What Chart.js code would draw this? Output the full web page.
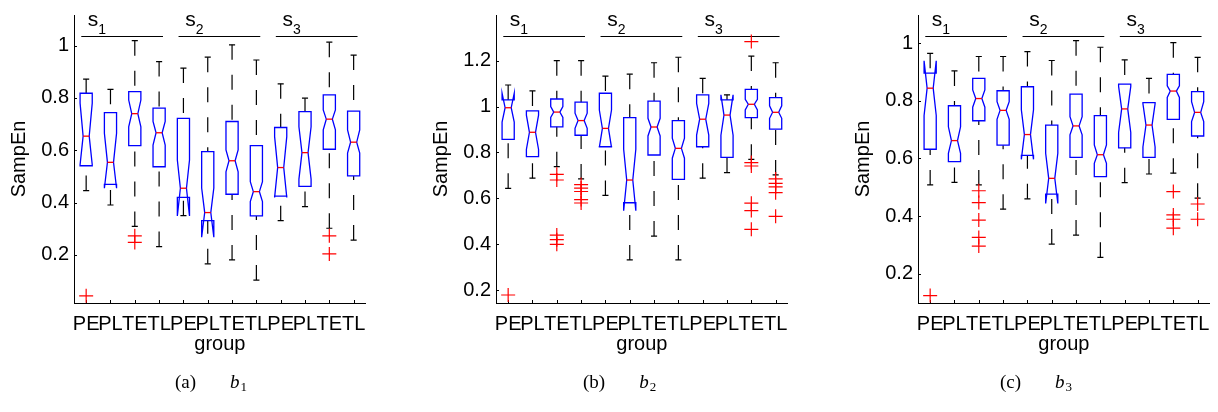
<!DOCTYPE html>
<html>
<head>
<meta charset="utf-8">
<script src="https://cdn.jsdelivr.net/npm/chart.js@4.4.0/dist/chart.umd.min.js"></script>
<style>
body { margin:0; background:#fff; width:1218px; height:412px; overflow:hidden; position:relative; }
canvas { position:absolute; top:0; }
.cap { position:absolute; top:371px; font-family:"Liberation Serif", serif; font-size:19px; line-height:22px; color:#000; white-space:nowrap; }
.cap i { margin-left:34px; }
.cap sub { font-size:13px; vertical-align:-3px; margin-left:1px; }
</style>
</head>
<body>
<canvas id="b1" width="374" height="412" style="left:0px"></canvas>
<canvas id="b2" width="374" height="412" style="left:422px"></canvas>
<canvas id="b3" width="374" height="412" style="left:844px"></canvas>
<div class="cap" style="left:175px">(a)<i>b</i><sub>1</sub></div>
<div class="cap" style="left:583px">(b)<i>b</i><sub>2</sub></div>
<div class="cap" style="left:1000px">(c)<i>b</i><sub>3</sub></div>
<script>
// categories
const groups = ['PE','PL','TE','TL','PE','PL','TE','TL','PE','PL','TE','TL'];
const subjects = ['1', '2', '3'];

// b1
const b1WhisHi  = [0.872, 0.833, 1.019, 0.939, 0.914, 0.956, 1.003, 0.945, 0.854, 0.799, 1.013, 0.964];
const b1Q3      = [0.818, 0.744, 0.824, 0.761, 0.722, 0.595, 0.710, 0.618, 0.687, 0.748, 0.812, 0.750];
const b1NotchHi = [0.780, 0.665, 0.792, 0.710, 0.563, 0.456, 0.601, 0.480, 0.652, 0.690, 0.754, 0.678];
const b1Median  = [0.654, 0.554, 0.740, 0.667, 0.455, 0.362, 0.560, 0.442, 0.534, 0.591, 0.719, 0.631];
const b1NotchLo = [0.545, 0.455, 0.690, 0.620, 0.349, 0.268, 0.518, 0.404, 0.420, 0.490, 0.678, 0.589];
const b1Q1      = [0.541, 0.470, 0.618, 0.537, 0.420, 0.331, 0.432, 0.349, 0.425, 0.462, 0.604, 0.502];
const b1WhisLo  = [0.446, 0.391, 0.309, 0.232, 0.350, 0.166, 0.181, 0.104, 0.331, 0.385, 0.302, 0.257];
const b1Outliers = [[0.044], [], [0.273, 0.248], [], [], [], [], [], [], [], [0.273, 0.204], []];

// b2
const b2WhisHi  = [1.094, 1.068, 1.200, 1.200, 1.133, 1.141, 1.191, 1.215, 1.123, 1.051, 1.220, 1.191];
const b2Q3      = [1.029, 0.981, 1.033, 1.019, 1.058, 0.952, 1.024, 0.939, 1.051, 1.029, 1.075, 1.039];
const b2NotchHi = [1.058, 0.963, 1.000, 0.971, 0.985, 0.814, 0.949, 0.862, 1.014, 1.051, 1.032, 1.003];
const b2Median  = [0.995, 0.888, 0.976, 0.939, 0.905, 0.680, 0.911, 0.818, 0.945, 0.963, 1.010, 0.975];
const b2NotchLo = [0.932, 0.813, 0.953, 0.905, 0.822, 0.546, 0.872, 0.775, 0.876, 0.875, 0.985, 0.949];
const b2Q1      = [0.857, 0.782, 0.912, 0.875, 0.825, 0.581, 0.789, 0.683, 0.825, 0.779, 0.952, 0.902];
const b2WhisLo  = [0.644, 0.688, 0.738, 0.685, 0.613, 0.332, 0.436, 0.332, 0.688, 0.712, 0.770, 0.702];
const b2Outliers = [[0.179], [], [0.705, 0.68, 0.44, 0.42, 0.40], [0.66, 0.645, 0.63, 0.595, 0.58], [], [], [], [], [], [],
                    [1.283, 0.756, 0.741, 0.579, 0.547, 0.465], [0.685, 0.665, 0.65, 0.625, 0.522]];

// b3
const b3WhisHi  = [0.965, 0.904, 0.954, 0.954, 0.971, 0.940, 1.009, 0.986, 0.942, 0.878, 1.002, 0.951];
const b3Q3      = [0.896, 0.783, 0.878, 0.835, 0.849, 0.716, 0.823, 0.749, 0.858, 0.794, 0.892, 0.832];
const b3NotchHi = [0.939, 0.710, 0.838, 0.797, 0.769, 0.618, 0.745, 0.647, 0.850, 0.790, 0.852, 0.797];
const b3Median  = [0.844, 0.662, 0.808, 0.767, 0.683, 0.531, 0.713, 0.613, 0.772, 0.716, 0.834, 0.760];
const b3NotchLo = [0.749, 0.618, 0.778, 0.736, 0.597, 0.444, 0.682, 0.583, 0.690, 0.640, 0.812, 0.728];
const b3Q1      = [0.632, 0.589, 0.731, 0.646, 0.611, 0.476, 0.604, 0.537, 0.637, 0.604, 0.736, 0.678];
const b3WhisLo  = [0.508, 0.517, 0.508, 0.424, 0.460, 0.303, 0.334, 0.257, 0.516, 0.546, 0.549, 0.462];
const b3Outliers = [[0.124], [], [0.488, 0.447, 0.386, 0.326, 0.296], [], [], [], [], [], [], [], [0.485, 0.404, 0.389, 0.358], [0.442, 0.389]];

// y axes
const b1Ticks = [0.2, 0.4, 0.6, 0.8, 1];
const b2Ticks = [0.2, 0.4, 0.6, 0.8, 1, 1.2];
const b3Ticks = [0.2, 0.4, 0.6, 0.8, 1];

Chart.defaults.font.family = '"Liberation Sans", Arial, sans-serif';
Chart.defaults.color = '#000';

const panels = {};

const notchBoxes = {
    id: 'notchBoxes',
    beforeDatasetsDraw(chart) {
        const p = panels[chart.canvas.id];
        const xs = chart.scales.x, ys = chart.scales.y;
        const ctx = chart.ctx;
        const area = chart.chartArea;
        const hw = xs.getPixelForValue(1.25) - xs.getPixelForValue(1);
        const capHw = hw * 0.5;
        const nd = hw * 0.5;
        ctx.save();
        // inward ticks
        ctx.strokeStyle = '#000';
        ctx.lineWidth = 1;
        ctx.beginPath();
        p.yTicks.forEach(v => {
            let y = Math.round(ys.getPixelForValue(v)) + 0.5;
            ctx.moveTo(area.left, y);
            ctx.lineTo(area.left + 3, y);
        });
        groups.forEach((g, i) => {
            let x = Math.round(xs.getPixelForValue(i + 1)) + 0.5;
            ctx.moveTo(x, area.bottom);
            ctx.lineTo(x, area.bottom - 3);
        });
        ctx.stroke();

        for (let i = 0; i < groups.length; i++) {
            const s = p.stats;
            const xc = xs.getPixelForValue(i + 1);
            const xl = xc - hw, xr = xc + hw;
            const py = v => ys.getPixelForValue(v);
            // whiskers
            ctx.strokeStyle = '#000';
            ctx.lineWidth = 1.2;
            ctx.setLineDash([15, 15]);
            ctx.beginPath();
            ctx.moveTo(xc, py(s.whisHi[i]));
            ctx.lineTo(xc, py(s.q3[i]));
            ctx.moveTo(xc, py(s.whisLo[i]));
            ctx.lineTo(xc, py(s.q1[i]));
            ctx.stroke();
            ctx.setLineDash([]);
            ctx.beginPath();
            ctx.moveTo(xc - capHw, py(s.whisHi[i]));
            ctx.lineTo(xc + capHw, py(s.whisHi[i]));
            ctx.moveTo(xc - capHw, py(s.whisLo[i]));
            ctx.lineTo(xc + capHw, py(s.whisLo[i]));
            ctx.stroke();
            // notched box
            ctx.strokeStyle = '#0000ff';
            ctx.lineWidth = 1.3;
            ctx.beginPath();
            ctx.moveTo(xl, py(s.q1[i]));
            ctx.lineTo(xl, py(s.notchLo[i]));
            ctx.lineTo(xl + nd, py(s.median[i]));
            ctx.lineTo(xl, py(s.notchHi[i]));
            ctx.lineTo(xl, py(s.q3[i]));
            ctx.lineTo(xr, py(s.q3[i]));
            ctx.lineTo(xr, py(s.notchHi[i]));
            ctx.lineTo(xr - nd, py(s.median[i]));
            ctx.lineTo(xr, py(s.notchLo[i]));
            ctx.lineTo(xr, py(s.q1[i]));
            ctx.closePath();
            ctx.stroke();
            // median
            ctx.strokeStyle = '#ff0000';
            ctx.beginPath();
            ctx.moveTo(xl + nd, py(s.median[i]));
            ctx.lineTo(xr - nd, py(s.median[i]));
            ctx.stroke();
        }

        // subject brackets
        ctx.strokeStyle = '#000';
        ctx.fillStyle = '#000';
        ctx.lineWidth = 1;
        const gy = Math.round(ys.getPixelForValue(p.groupY)) + 0.5;
        subjects.forEach((sub, k) => {
            ctx.beginPath();
            ctx.moveTo(xs.getPixelForValue(4 * k + 0.8), gy);
            ctx.lineTo(xs.getPixelForValue(4 * k + 4.16), gy);
            ctx.stroke();
            const tx = xs.getPixelForValue(4 * k + 1) + 1.7;
            ctx.font = '21px "Liberation Sans", Arial, sans-serif';
            ctx.textAlign = 'left';
            ctx.textBaseline = 'alphabetic';
            ctx.fillText('s', tx, gy - 10.7);
            const w = ctx.measureText('s').width;
            ctx.font = '14px "Liberation Sans", Arial, sans-serif';
            ctx.fillText(sub, tx + w, gy - 2.4);
        });
        ctx.restore();
    }
};

function makeChart(id, stats, outliers, yMin, yMax, yTicks, groupY) {
    panels[id] = { stats: stats, yTicks: yTicks, groupY: groupY };
    const points = [];
    outliers.forEach((arr, i) => arr.forEach(v => points.push({ x: i + 1, y: v })));
    return new Chart(document.getElementById(id), {
        type: 'scatter',
        data: {
            datasets: [{
                data: points,
                pointStyle: 'cross',
                pointRadius: 7,
                pointBorderColor: '#ff0000',
                pointBorderWidth: 1.2,
                borderColor: '#ff0000'
            }]
        },
        options: {
            responsive: false,
            animation: false,
            layout: { padding: { top: 15, right: 1, left: 0, bottom: 0 } },
            plugins: { legend: { display: false }, tooltip: { enabled: false } },
            scales: {
                x: {
                    type: 'linear',
                    min: 0.5,
                    max: 12.5,
                    grid: { display: false, drawTicks: false },
                    border: { display: true, color: '#000', width: 1 },
                    afterBuildTicks: s => { s.ticks = groups.map((g, i) => ({ value: i + 1 })); },
                    afterFit: s => { s.height = 109; s.paddingLeft = 0; s.paddingRight = 0; },
                    ticks: {
                        autoSkip: false,
                        maxRotation: 0,
                        padding: 9.5,
                        color: '#000',
                        font: { size: 20 },
                        callback: v => groups[v - 1] || ''
                    },
                    title: { display: true, text: 'group', color: '#000', font: { size: 20 }, padding: { top: 0, bottom: 56 } }
                },
                y: {
                    min: yMin,
                    max: yMax,
                    grid: { display: false, drawTicks: false },
                    border: { display: true, color: '#000', width: 1 },
                    afterBuildTicks: s => { s.ticks = yTicks.map(v => ({ value: v })); },
                    afterFit: s => { s.width = 74; s.paddingTop = 0; s.paddingBottom = 0; },
                    ticks: {
                        padding: 5,
                        color: '#000',
                        font: { size: 20 },
                        callback: v => String(+v.toFixed(1))
                    },
                    title: { display: true, text: 'SampEn', color: '#000', font: { size: 20 }, padding: { top: 7, bottom: 0 } }
                }
            }
        },
        plugins: [notchBoxes]
    });
}

makeChart('b1',
    { whisHi: b1WhisHi, q3: b1Q3, notchHi: b1NotchHi, median: b1Median, notchLo: b1NotchLo, q1: b1Q1, whisLo: b1WhisLo },
    b1Outliers, 0.0164, 1.117, b1Ticks, 1.038);
makeChart('b2',
    { whisHi: b2WhisHi, q3: b2Q3, notchHi: b2NotchHi, median: b2Median, notchLo: b2NotchLo, q1: b2Q1, whisLo: b2WhisLo },
    b2Outliers, 0.1442, 1.399, b2Ticks, 1.309);
makeChart('b3',
    { whisHi: b3WhisHi, q3: b3Q3, notchHi: b3NotchHi, median: b3Median, notchLo: b3NotchLo, q1: b3Q1, whisLo: b3WhisLo },
    b3Outliers, 0.0983, 1.098, b3Ticks, 1.026);
</script>
</body>
</html>
